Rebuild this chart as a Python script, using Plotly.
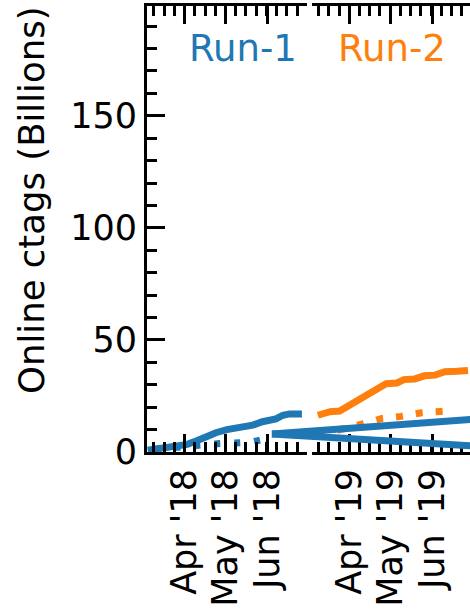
import pandas as pd
import plotly.graph_objects as go

BLUE = "#1f77b4"
ORANGE = "#ff7f0e"
FONT = "DejaVu Sans"

# Run-1 (2018) cumulative ctags, billions
run1_dates = ["2018-03-05", "2018-03-15", "2018-03-25", "2018-04-03", "2018-04-10",
              "2018-04-17", "2018-04-24", "2018-05-02", "2018-05-09", "2018-05-15",
              "2018-05-21", "2018-05-28", "2018-06-07", "2018-06-12", "2018-06-17",
              "2018-06-26"]
run1_online = [0.8, 1.8, 2.6, 3.4, 5.0, 6.9, 8.6, 10.0, 10.5, 11.0, 12.0, 13.5,
               14.8, 16.4, 17.0, 17.0]

run1_offline_dates = ["2018-03-10", "2018-03-25", "2018-04-08", "2018-04-22",
                      "2018-05-06", "2018-05-20", "2018-06-04"]
run1_offline = [1.2, 2.2, 3.3, 3.6, 4.0, 4.4, 6.5]

# Run-2 (2019) cumulative ctags, billions
run2_dates = ["2019-03-09", "2019-03-18", "2019-03-25", "2019-04-01", "2019-04-10",
              "2019-04-16", "2019-04-22", "2019-04-28", "2019-05-06", "2019-05-11",
              "2019-05-19", "2019-05-26", "2019-06-03", "2019-06-10", "2019-06-19",
              "2019-06-27"]
run2_online = [16.4, 18.0, 18.3, 20.8, 24.3, 26.0, 28.8, 30.5, 30.8, 32.3, 32.6,
               34.0, 34.3, 35.8, 36.0, 36.4]

run2_offline_dates = ["2019-03-09", "2019-03-24", "2019-04-10", "2019-04-25",
                      "2019-05-09", "2019-05-24", "2019-06-07", "2019-06-10"]
run2_offline = [8.5, 9.8, 12.4, 15.0, 15.9, 17.5, 18.1, 18.2]

# Run-1 trend lines running across the axis break
bridge_dates = ["2018-06-04", "2018-10-28"]
bridge_upper = [8.0, 14.5]
bridge_lower = [8.0, 2.8]

y_ticks = [0, 50, 100, 150]

# ---- geometry (pixels) ----
W, H = 470, 610
PL, PR = 147, 470          # plot region left/right
PT, PB = 6, 452            # plot region top/bottom
L_END, R_START = 306.7, 311.7
DAYS_PER_PX = 117 / (L_END - PL)
PW = PR - PL
LW = 7

dom_left = [0, (L_END - PL) / PW]
dom_right = [(R_START - PL) / PW, 1]

left_start = pd.Timestamp("2018-03-04 12:00")
left_end = left_start + pd.Timedelta(days=(L_END - PL) * DAYS_PER_PX)
right_start = pd.Timestamp("2019-03-04 12:00")
right_end = right_start + pd.Timedelta(days=(PR - R_START) * DAYS_PER_PX)
bridge_end = left_start + pd.Timedelta(days=PW * DAYS_PER_PX)

line_kw = dict(mode="lines", showlegend=False, hoverinfo="skip")

fig = go.Figure()
fig.add_trace(go.Scatter(x=run1_offline_dates, y=run1_offline, xaxis="x", yaxis="y",
                         line=dict(color=BLUE, width=LW, dash="6px,14px"), **line_kw))
fig.add_trace(go.Scatter(x=run1_dates, y=run1_online, xaxis="x", yaxis="y",
                         line=dict(color=BLUE, width=LW), **line_kw))
fig.add_trace(go.Scatter(x=run2_offline_dates, y=run2_offline, xaxis="x2", yaxis="y",
                         line=dict(color=ORANGE, width=LW, dash="7px,13px"), **line_kw))
fig.add_trace(go.Scatter(x=run2_dates, y=run2_online, xaxis="x2", yaxis="y",
                         line=dict(color=ORANGE, width=LW), **line_kw))
fig.add_trace(go.Scatter(x=bridge_dates, y=bridge_upper, xaxis="x3", yaxis="y",
                         line=dict(color=BLUE, width=LW), **line_kw))
fig.add_trace(go.Scatter(x=bridge_dates, y=bridge_lower, xaxis="x3", yaxis="y",
                         line=dict(color=BLUE, width=LW), **line_kw))

tick_font = dict(family=FONT, size=35, color="black")
minor_x = dict(dtick=7.5 * 86400000, ticks="inside", ticklen=10, tickwidth=2.5,
               tickcolor="black", showgrid=False)


def date_axis(domain, rng, tick0):
    return dict(domain=domain, type="date", range=list(rng), anchor="y",
                dtick="M1", tick0=tick0, tickformat="%b '%y", tickangle=-90,
                ticks="inside", ticklen=18, tickwidth=3, tickcolor="black",
                showline=True, linewidth=3, linecolor="black", mirror="allticks",
                showgrid=False, zeroline=False, tickfont=tick_font,
                minor=dict(minor_x, tick0=tick0))


fig.update_layout(
    width=W, height=H,
    margin=dict(l=PL, r=W - PR, t=PT, b=H - PB),
    paper_bgcolor="white", plot_bgcolor="rgba(0,0,0,0)",
    xaxis=date_axis(dom_left, (left_start, left_end), "2018-04-01"),
    xaxis2=date_axis(dom_right, (right_start, right_end), "2019-04-01"),
    xaxis3=dict(domain=[0, 1], type="date", range=[left_start, bridge_end],
                anchor="y", visible=False),
    yaxis=dict(domain=[0, 1], range=[0, 199], anchor="x", tickvals=y_ticks,
               ticks="inside", ticklen=18, tickwidth=3, tickcolor="black",
               showline=True, linewidth=3, linecolor="black", mirror=False,
               showgrid=False, zeroline=False, tickfont=tick_font,
               minor=dict(dtick=10, ticks="inside", ticklen=10, tickwidth=2.5,
                          tickcolor="black", showgrid=False)),
    annotations=[
        dict(text="Run-1", xref="paper", yref="paper", x=(242.5 - PL) / PW,
             y=(PB - 49) / (PB - PT), xanchor="center", yanchor="middle",
             showarrow=False, font=dict(family=FONT, size=37, color=BLUE)),
        dict(text="Run-2", xref="paper", yref="paper", x=(391.7 - PL) / PW,
             y=(PB - 49) / (PB - PT), xanchor="center", yanchor="middle",
             showarrow=False, font=dict(family=FONT, size=37, color=ORANGE)),
        dict(text="Online ctags (Billions)", xref="paper", yref="paper",
             x=(31 - PL) / PW, y=(PB - 200) / (PB - PT), xanchor="center",
             yanchor="middle", textangle=-90, showarrow=False,
             font=dict(family=FONT, size=35.5, color="black")),
    ],
)

fig.write_html("out.html")
